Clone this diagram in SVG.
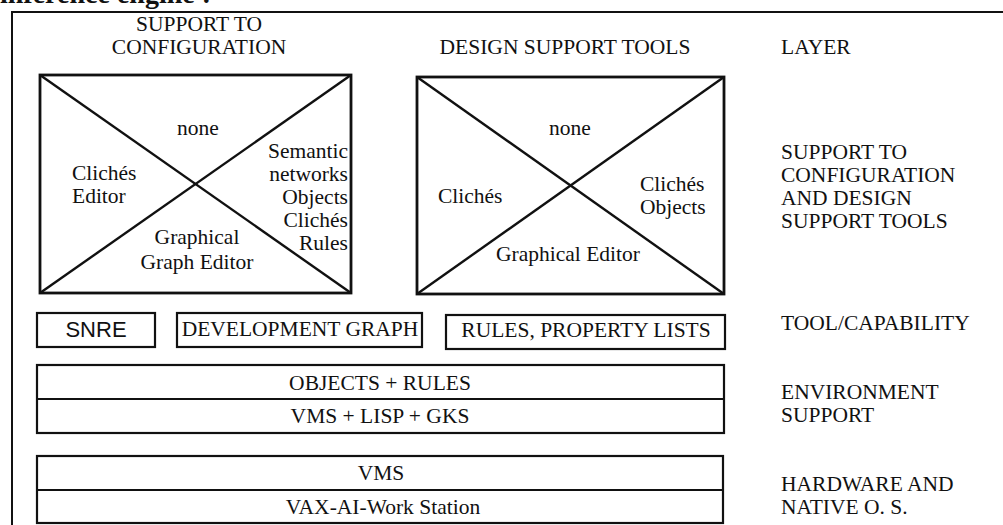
<svg xmlns="http://www.w3.org/2000/svg" width="1003" height="525" viewBox="0 0 1003 525">
  <style>
    .t { font-family: "Liberation Serif", "Times New Roman", serif; font-size: 21.5px; fill: #111; }
    .c { text-anchor: middle; }
    .r { text-anchor: end; }
    .s { font-family: "Liberation Sans", Arial, sans-serif; font-size: 22px; fill: #111; text-anchor: middle; }
    .frame { fill: none; stroke: #111; stroke-width: 2; }
    .xbox { fill: none; stroke: #111; stroke-width: 2.8; }
    .diag { stroke: #111; stroke-width: 2.4; }
    .box { fill: none; stroke: #111; stroke-width: 2.2; }
  </style>
  <rect width="1003" height="525" fill="#fff"/>

  <!-- caption running off the top edge -->
  <text x="0" y="3" font-family="Liberation Serif, serif" font-size="28" font-weight="bold" fill="#111">inference engine :</text>

  <!-- outer frame: top and left rules -->
  <path class="frame" d="M12 525 V12 H1003"/>

  <!-- column headings -->
  <g id="heading-config">
    <text class="t c" x="199" y="31">SUPPORT TO</text>
    <text class="t c" x="199" y="54">CONFIGURATION</text>
  </g>
  <g id="heading-design">
    <text class="t c" x="565" y="54">DESIGN SUPPORT TOOLS</text>
  </g>

  <!-- configuration support box -->
  <g id="config-box">
    <rect class="xbox" x="40" y="75" width="311" height="218"/>
    <line class="diag" x1="40" y1="75" x2="351" y2="293"/>
    <line class="diag" x1="40" y1="293" x2="351" y2="75"/>
    <text class="t c" x="198" y="135">none</text>
    <text class="t" x="72" y="180">Clichés</text>
    <text class="t" x="72" y="203">Editor</text>
    <text class="t r" x="348" y="158">Semantic</text>
    <text class="t r" x="348" y="181">networks</text>
    <text class="t r" x="348" y="204">Objects</text>
    <text class="t r" x="348" y="227">Clichés</text>
    <text class="t r" x="348" y="250">Rules</text>
    <text class="t c" x="197" y="244">Graphical</text>
    <text class="t c" x="197" y="269">Graph Editor</text>
  </g>

  <!-- design support tools box -->
  <g id="design-box">
    <rect class="xbox" x="417" y="77" width="307" height="217"/>
    <line class="diag" x1="417" y1="77" x2="724" y2="294"/>
    <line class="diag" x1="417" y1="294" x2="724" y2="77"/>
    <text class="t c" x="570" y="135">none</text>
    <text class="t" x="438" y="203">Clichés</text>
    <text class="t" x="640" y="191">Clichés</text>
    <text class="t" x="640" y="214">Objects</text>
    <text class="t c" x="568" y="261">Graphical Editor</text>
  </g>

  <!-- tool / capability row -->
  <g id="snre">
    <rect class="box" x="37" y="313" width="118" height="34"/>
    <text class="s" x="96" y="337">SNRE</text>
  </g>
  <g id="development-graph">
    <rect class="box" x="177" y="313" width="245" height="34"/>
    <text class="t c" x="300" y="336">DEVELOPMENT GRAPH</text>
  </g>
  <g id="rules-property-lists">
    <rect class="box" x="446" y="315" width="279" height="34"/>
    <text class="t c" x="586" y="337">RULES, PROPERTY LISTS</text>
  </g>

  <!-- environment support -->
  <g id="environment">
    <rect class="box" x="37" y="365" width="687" height="68"/>
    <line class="box" x1="37" y1="399" x2="724" y2="399"/>
    <text class="t c" x="380" y="390">OBJECTS + RULES</text>
    <text class="t c" x="380" y="423">VMS + LISP + GKS</text>
  </g>

  <!-- hardware and native OS -->
  <g id="hardware">
    <rect class="box" x="37" y="456" width="686" height="67"/>
    <line class="box" x1="37" y1="490" x2="723" y2="490"/>
    <text class="t c" x="381" y="480">VMS</text>
    <text class="t c" x="383" y="514">VAX-AI-Work Station</text>
  </g>

  <!-- layer names -->
  <g id="layer-labels">
    <text class="t" x="781" y="54">LAYER</text>
    <text class="t" x="781" y="159">SUPPORT TO</text>
    <text class="t" x="781" y="182">CONFIGURATION</text>
    <text class="t" x="781" y="205">AND DESIGN</text>
    <text class="t" x="781" y="228">SUPPORT TOOLS</text>
    <text class="t" x="781" y="330">TOOL/CAPABILITY</text>
    <text class="t" x="781" y="399">ENVIRONMENT</text>
    <text class="t" x="781" y="422">SUPPORT</text>
    <text class="t" x="781" y="491">HARDWARE AND</text>
    <text class="t" x="781" y="514">NATIVE O. S.</text>
  </g>

  <!-- no connectors: the layers are stacked boxes -->
  <g id="connectors"/>
</svg>
